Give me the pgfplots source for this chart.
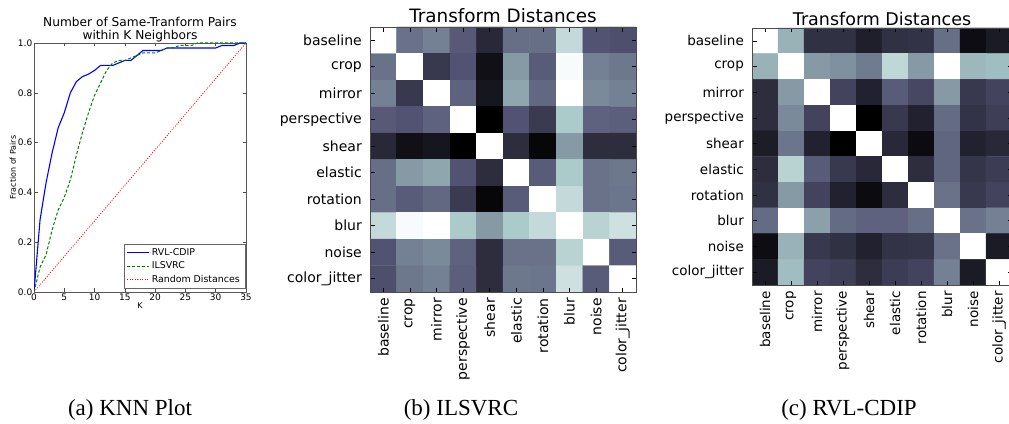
\documentclass[border=0pt]{standalone}
\usepackage{pgfplots}
\pgfplotsset{compat=1.18}
\usepackage{fontspec}
\setmainfont{DejaVu Sans}
\newfontfamily\capfont{Liberation Serif}
\pgfplotsset{colormap={bone}{rgb(0pt)=(0,0,0) rgb(365pt)=(0.319,0.319,0.444) rgb(746pt)=(0.652,0.778,0.778) rgb(1000pt)=(1,1,1)}}
\pgfplotstableread[row sep=\\]{
x y c\\
0 0 1.00\\ 1 0 0.47\\ 2 0 0.52\\ 3 0 0.39\\ 4 0 0.18\\ 5 0 0.46\\ 6 0 0.46\\ 7 0 0.83\\ 8 0 0.37\\ 9 0 0.35\\
0 1 0.47\\ 1 1 1.00\\ 2 1 0.25\\ 3 1 0.37\\ 4 1 0.07\\ 5 1 0.60\\ 6 1 0.40\\ 7 1 0.98\\ 8 1 0.52\\ 9 1 0.49\\
0 2 0.52\\ 1 2 0.25\\ 2 2 1.00\\ 3 2 0.42\\ 4 2 0.10\\ 5 2 0.64\\ 6 2 0.44\\ 7 2 1.00\\ 8 2 0.55\\ 9 2 0.52\\
0 3 0.39\\ 1 3 0.37\\ 2 3 0.42\\ 3 3 1.00\\ 4 3 0.00\\ 5 3 0.37\\ 6 3 0.26\\ 7 3 0.76\\ 8 3 0.42\\ 9 3 0.41\\
0 4 0.18\\ 1 4 0.07\\ 2 4 0.10\\ 3 4 0.00\\ 4 4 1.00\\ 5 4 0.20\\ 6 4 0.03\\ 7 4 0.60\\ 8 4 0.20\\ 9 4 0.20\\
0 5 0.46\\ 1 5 0.60\\ 2 5 0.64\\ 3 5 0.37\\ 4 5 0.20\\ 5 5 1.00\\ 6 5 0.40\\ 7 5 0.76\\ 8 5 0.47\\ 9 5 0.49\\
0 6 0.46\\ 1 6 0.40\\ 2 6 0.44\\ 3 6 0.26\\ 4 6 0.03\\ 5 6 0.40\\ 6 6 1.00\\ 7 6 0.83\\ 8 6 0.47\\ 9 6 0.48\\
0 7 0.83\\ 1 7 0.98\\ 2 7 1.00\\ 3 7 0.76\\ 4 7 0.60\\ 5 7 0.76\\ 6 7 0.83\\ 7 7 1.00\\ 8 7 0.80\\ 9 7 0.86\\
0 8 0.37\\ 1 8 0.52\\ 2 8 0.55\\ 3 8 0.42\\ 4 8 0.20\\ 5 8 0.47\\ 6 8 0.47\\ 7 8 0.80\\ 8 8 1.00\\ 9 8 0.40\\
0 9 0.35\\ 1 9 0.49\\ 2 9 0.52\\ 3 9 0.41\\ 4 9 0.20\\ 5 9 0.49\\ 6 9 0.48\\ 7 9 0.86\\ 8 9 0.40\\ 9 9 1.00\\
}\ilsvrc
\pgfplotstableread[row sep=\\]{
x y c\\
0 0 1.00\\ 1 0 0.68\\ 2 0 0.22\\ 3 0 0.22\\ 4 0 0.14\\ 5 0 0.22\\ 6 0 0.23\\ 7 0 0.46\\ 8 0 0.06\\ 9 0 0.12\\
0 1 0.68\\ 1 1 1.00\\ 2 1 0.60\\ 3 1 0.57\\ 4 1 0.50\\ 5 1 0.82\\ 6 1 0.60\\ 7 1 1.00\\ 8 1 0.70\\ 9 1 0.72\\
0 2 0.20\\ 1 2 0.60\\ 2 2 1.00\\ 3 2 0.30\\ 4 2 0.15\\ 5 2 0.40\\ 6 2 0.32\\ 7 2 0.60\\ 8 2 0.25\\ 9 2 0.30\\
0 3 0.20\\ 1 3 0.55\\ 2 3 0.30\\ 3 3 1.00\\ 4 3 0.00\\ 5 3 0.25\\ 6 3 0.15\\ 7 3 0.45\\ 8 3 0.23\\ 9 3 0.28\\
0 4 0.13\\ 1 4 0.48\\ 2 4 0.15\\ 3 4 0.00\\ 4 4 1.00\\ 5 4 0.18\\ 6 4 0.05\\ 7 4 0.43\\ 8 4 0.15\\ 9 4 0.18\\
0 5 0.20\\ 1 5 0.80\\ 2 5 0.40\\ 3 5 0.25\\ 4 5 0.18\\ 5 5 1.00\\ 6 5 0.20\\ 7 5 0.43\\ 8 5 0.24\\ 9 5 0.27\\
0 6 0.22\\ 1 6 0.60\\ 2 6 0.30\\ 3 6 0.15\\ 4 6 0.05\\ 5 6 0.20\\ 6 6 1.00\\ 7 6 0.47\\ 8 6 0.25\\ 9 6 0.30\\
0 7 0.45\\ 1 7 1.00\\ 2 7 0.62\\ 3 7 0.45\\ 4 7 0.42\\ 5 7 0.42\\ 6 7 0.46\\ 7 7 1.00\\ 8 7 0.47\\ 9 7 0.52\\
0 8 0.06\\ 1 8 0.68\\ 2 8 0.25\\ 3 8 0.22\\ 4 8 0.15\\ 5 8 0.23\\ 6 8 0.24\\ 7 8 0.47\\ 8 8 1.00\\ 9 8 0.12\\
0 9 0.12\\ 1 9 0.72\\ 2 9 0.30\\ 3 9 0.28\\ 4 9 0.20\\ 5 9 0.27\\ 6 9 0.30\\ 7 9 0.52\\ 8 9 0.12\\ 9 9 1.00\\
}\rvl
\pgfplotsset{
  heat/.style={
    anchor=south west, scale only axis,
    xmin=-0.5, xmax=9.5, ymin=-0.5, ymax=9.5, y dir=reverse, enlargelimits=false,
    colormap name=bone, point meta min=0, point meta max=1,
    xtick={0,...,9}, ytick={0,...,9},
    xticklabels={baseline,crop,mirror,perspective,shear,elastic,rotation,blur,noise,color\_jitter},
    yticklabels={baseline,crop,mirror,perspective,shear,elastic,rotation,blur,noise,color\_jitter},
    xticklabel style={rotate=90, anchor=east, inner xsep=6pt},
    yticklabel style={inner xsep=8pt},
    axis on top,
    axis line style={black!70, line width=0.8pt},
    tick style={black, line width=0.6pt}, major tick length=4.5pt,
    title=Transform Distances,
  }
}
\begin{document}
\begin{tikzpicture}
\useasboundingbox (0,0) rectangle (1009pt,423pt);
\clip (0,0) rectangle (1009pt,423pt);
% (a) KNN plot
\begin{axis}[
  at={(34pt,131pt)}, anchor=south west, scale only axis,
  width=212pt, height=249pt,
  xmin=0, xmax=35, ymin=0, ymax=1,
  xtick={0,5,10,15,20,25,30,35}, ytick={0,0.2,0.4,0.6,0.8,1},
  /pgf/number format/assume math mode=true,
  yticklabel style={/pgf/number format/fixed, /pgf/number format/fixed zerofill, /pgf/number format/precision=1, inner xsep=1.5pt},
  tick label style={font=\fontsize{9}{10}\selectfont},
  xticklabel style={inner ysep=2pt},
  axis line style={black!65, line width=0.6pt},
  tick style={black!70, line width=0.5pt}, major tick length=3.5pt,
  title={Number of Same-Tranform Pairs\\within K Neighbors},
  title style={align=center, font=\fontsize{12.2}{12.3}\selectfont, at={(0.5,1)}, anchor=south, inner sep=0pt, yshift=-5pt},
  xlabel={K}, xlabel style={font=\fontsize{8}{9}\selectfont, at={(axis description cs:0.5,0)}, anchor=north, inner sep=0pt, yshift=-10pt},
  ylabel={Fraction of Pairs}, ylabel style={font=\fontsize{8}{9}\selectfont, at={(axis description cs:-0.1,0.5)}, anchor=center},
  legend style={at={(0.995,0.015)}, anchor=south east, draw=black!60,
    font=\fontsize{9.4}{11}\selectfont, inner xsep=3pt, inner ysep=2pt, row sep=1pt},
  legend cell align=left,
  legend image code/.code={\draw[mark repeat=2,mark phase=2] plot coordinates {(0pt,0pt) (11pt,0pt) (22pt,0pt)};},
]
\addplot[blue, line width=1.1pt] coordinates {
(0,0) (1,0.29) (2,0.44) (3,0.56) (4,0.66) (5,0.72) (6,0.80) (7,0.845) (8,0.865) (9,0.875)
(10,0.89) (11,0.91) (12,0.91) (13,0.91) (14,0.92) (15,0.93) (16,0.93) (17,0.95) (18,0.97)
(19,0.97) (20,0.97) (21,0.97) (22,0.98) (23,0.98) (24,0.98) (25,0.98) (26,0.98) (27,0.98)
(28,0.98) (29,0.98) (30,0.98) (31,0.99) (32,0.99) (33,0.99) (34,1.0) (35,1.0)};
\addlegendentry{RVL-CDIP}
\addplot[color={rgb,1:red,0;green,0.5;blue,0}, line width=1.0pt, dash pattern=on 3pt off 2pt] coordinates {
(0,0) (1,0.10) (2,0.15) (3,0.25) (4,0.33) (5,0.38) (6,0.45) (7,0.55) (8,0.64) (9,0.72)
(10,0.79) (11,0.84) (12,0.89) (13,0.92) (14,0.93) (15,0.93) (16,0.94) (17,0.95) (18,0.96)
(19,0.96) (20,0.96) (21,0.97) (22,0.98) (23,0.98) (24,0.99) (25,0.99) (26,0.99) (27,1.0) (35,1.0)};
\addlegendentry{ILSVRC}
\addplot[red, line width=0.8pt, dash pattern=on 1pt off 1.5pt] coordinates {(0,0) (35,1)};
\addlegendentry{Random Distances}
\end{axis}
% (b) ILSVRC
\begin{axis}[heat,
  at={(370pt,131pt)}, width=266pt, height=265pt,
  tick label style={font=\fontsize{14}{16}\selectfont},
  title style={font=\fontsize{18.4}{20}\selectfont, at={(0.5,1)}, anchor=base, yshift=-1pt},
]
\addplot[matrix plot*, mesh/cols=10, point meta=explicit] table[x=x, y=y, meta=c] {\ilsvrc};
\end{axis}
% (c) RVL-CDIP
\begin{axis}[heat,
  at={(752pt,138pt)}, width=260pt, height=257pt,
  tick label style={font=\fontsize{13.5}{15}\selectfont},
  title style={font=\fontsize{17.5}{19}\selectfont, at={(0.5,1)}, anchor=base, yshift=-4pt},
]
\addplot[matrix plot*, mesh/cols=10, point meta=explicit] table[x=x, y=y, meta=c] {\rvl};
\end{axis}
% captions
\node[font=\capfont\fontsize{23}{26}\selectfont, anchor=base] at (130pt,8pt) {(a) KNN Plot};
\node[font=\capfont\fontsize{23}{26}\selectfont, anchor=base] at (461pt,8pt) {(b) ILSVRC};
\node[font=\capfont\fontsize{23}{26}\selectfont, anchor=base] at (849pt,8pt) {(c) RVL-CDIP};
\end{tikzpicture}
\end{document}
